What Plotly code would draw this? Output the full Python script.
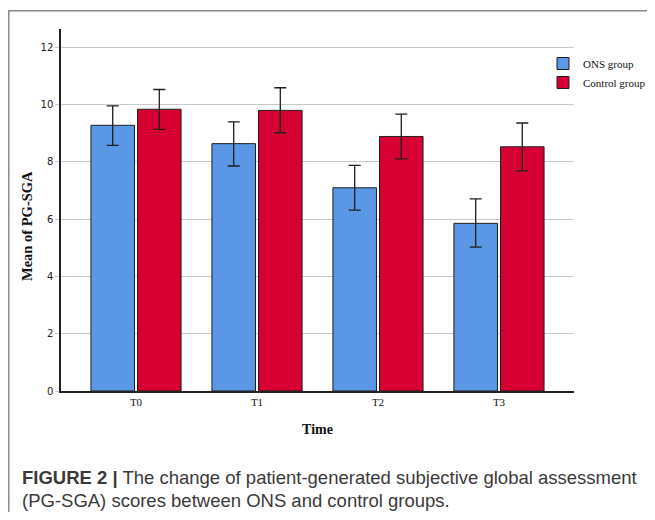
import plotly.graph_objects as go

categories = ["T0", "T1", "T2", "T3"]
ons_mean = [9.27, 8.63, 7.09, 5.85]
ons_upper = [9.95, 9.39, 7.87, 6.70]
ons_lower = [8.57, 7.85, 6.31, 5.02]
ctrl_mean = [9.83, 9.79, 8.88, 8.52]
ctrl_upper = [10.52, 10.58, 9.66, 9.35]
ctrl_lower = [9.13, 9.01, 8.10, 7.68]
y_ticks = [0, 2, 4, 6, 8, 10, 12]

# page body has an 8px margin; work in reference (screen) pixel coordinates
O = 8
W, H = 655 - 2 * O, 520 - 2 * O
PL, PR, PT, PB = 61, 574, 29, 391          # plot area in screen pixels
L, T = PL - O, PT - O
R, B = W - (PR - O), H - (PB - O)
pw = W - L - R
ph = H - T - B


def px_x(x):
    return (x - PL) / pw


def px_y(y):
    return (PB - y) / ph


serif = "Liberation Serif, Times New Roman, serif"
sans = "Liberation Sans, Arial, sans-serif"

fig = go.Figure()
fig.add_trace(go.Bar(
    name="ONS group", x=categories, y=ons_mean,
    marker=dict(color="#5A97E4", line=dict(color="#1e1e1e", width=1)),
    error_y=dict(type="data", symmetric=False,
                 array=[u - m for u, m in zip(ons_upper, ons_mean)],
                 arrayminus=[m - l for m, l in zip(ons_mean, ons_lower)],
                 color="#1e1e1e", thickness=1.3, width=6),
))
fig.add_trace(go.Bar(
    name="Control group", x=categories, y=ctrl_mean,
    marker=dict(color="#D60032", line=dict(color="#1e1e1e", width=1)),
    error_y=dict(type="data", symmetric=False,
                 array=[u - m for u, m in zip(ctrl_upper, ctrl_mean)],
                 arrayminus=[m - l for m, l in zip(ctrl_mean, ctrl_lower)],
                 color="#1e1e1e", thickness=1.3, width=6),
))

fig.update_layout(
    width=W, height=H,
    margin=dict(l=L, r=R, t=T, b=B, pad=0, autoexpand=False),
    paper_bgcolor="white", plot_bgcolor="white",
    barmode="group", bargap=0.23, bargroupgap=0.065,
    showlegend=True,
    legend=dict(x=px_x(543), y=px_y(49), xanchor="left", yanchor="top",
                font=dict(family=serif, size=11, color="#111"),
                itemwidth=30, tracegroupgap=0, bgcolor="rgba(0,0,0,0)"),
    xaxis=dict(range=[-0.62, 3.62], showline=True, linecolor="#222", linewidth=1.5,
               ticks="", tickfont=dict(family=serif, size=11, color="#111"),
               title=dict(text="<b>Time</b>", font=dict(family=serif, size=14, color="#111"), standoff=17),
               showgrid=False, zeroline=False),
    yaxis=dict(range=[0, 12.63], tickvals=y_ticks, showline=True, linecolor="#222", linewidth=1.5,
               ticks="outside", ticklen=4, tickcolor="#c8c8c8",
               tickfont=dict(family="DejaVu Sans, sans-serif", size=10, color="#222"),
               showgrid=True, gridcolor="#c8c8c8", gridwidth=1, zeroline=False),
    shapes=[dict(type="rect", xref="paper", yref="paper",
                 x0=px_x(8.8), x1=px_x(700), y0=px_y(560), y1=px_y(10.8),
                 line=dict(color="#8a8a8a", width=1.5), fillcolor="rgba(0,0,0,0)", layer="below")],
    annotations=[
        dict(xref="paper", yref="paper", x=px_x(27), y=px_y(226), xanchor="center", yanchor="middle",
             showarrow=False, textangle=-90, text="<b>Mean of PG-SGA</b>",
             font=dict(family=serif, size=14.5, color="#111")),
        dict(xref="paper", yref="paper", x=px_x(20), y=px_y(477), xanchor="left", yanchor="middle",
             showarrow=False, align="left",
             text="<b>FIGURE 2 |</b> The change of patient-generated subjective global assessment",
             font=dict(family=sans, size=18.5, color="#3a3a3a")),
        dict(xref="paper", yref="paper", x=px_x(20), y=px_y(500), xanchor="left", yanchor="middle",
             showarrow=False, align="left",
             text="(PG-SGA) scores between ONS and control groups.",
             font=dict(family=sans, size=18.5, color="#3a3a3a")),
    ],
)

fig.write_html("out.html")
